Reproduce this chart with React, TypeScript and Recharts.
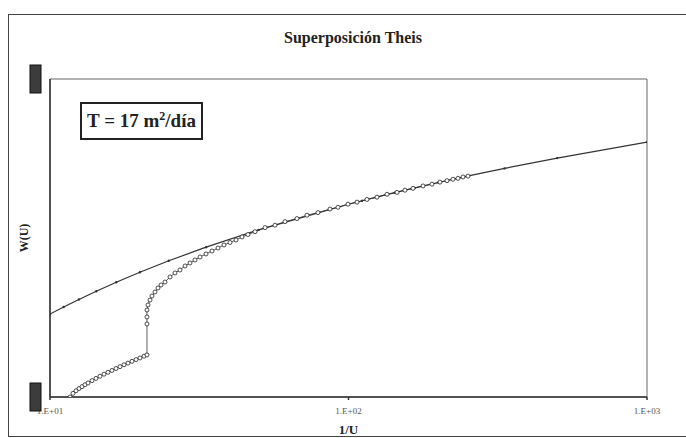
import React from "react";
import {
  LineChart,
  Line,
  XAxis,
  YAxis,
  ReferenceArea,
  Label,
} from "recharts";

// Theis type curve (1/u, W(u))
const theisInvU = [10, 11.11, 12.5, 14.29, 16.67, 20, 25, 33.33, 50, 100, 111.1, 125, 142.9, 166.7, 200, 250, 333.3, 500, 1000];
const theisW = [1.823, 1.919, 2.027, 2.151, 2.295, 2.468, 2.681, 2.959, 3.355, 4.038, 4.142, 4.259, 4.392, 4.545, 4.726, 4.948, 5.235, 5.639, 6.332];

// observed data after superposition
const obsInvU = [
  11.67, 11.94, 12.22, 12.51, 12.8, 13.1, 13.41, 13.83, 14.26, 14.71, 15.17, 15.64, 16.13, 16.64, 17.16, 17.7, 18.25, 18.83, 19.42, 20.02, 20.65, 21.13,
  21.13, 21.13, 21.13, 21.3, 21.63, 21.96, 22.48, 23.0, 23.55, 24.28, 25.24, 26.23, 27.26, 28.34, 29.44, 30.6, 31.81, 33.31, 34.89, 36.54, 38.27, 40.09, 41.99, 43.97, 46.05,
  48.63, 52.53, 56.73, 61.27, 67.21, 72.61, 79.02, 86.7, 92.21, 99.61, 106.8, 115.3, 124.6, 134.6, 145.4, 154.6, 164.5, 177.7, 190.4, 202.5, 213.8, 223.9, 232.7, 241.9, 251.3,
];
const obsW = [
  1.0, 1.027, 1.046, 1.063, 1.078, 1.093, 1.107, 1.126, 1.144, 1.162, 1.18, 1.196, 1.212, 1.229, 1.246, 1.263, 1.278, 1.295, 1.311, 1.327, 1.344, 1.356,
  1.697, 1.785, 1.877, 1.947, 2.018, 2.078, 2.139, 2.202, 2.25, 2.299, 2.385, 2.455, 2.508, 2.582, 2.639, 2.697, 2.756, 2.817, 2.878, 2.941, 3.006, 3.061, 3.117, 3.186, 3.243,
  3.31, 3.41, 3.47, 3.56, 3.64, 3.73, 3.8, 3.9, 3.95, 4.04, 4.1, 4.18, 4.25, 4.34, 4.4, 4.47, 4.53, 4.61, 4.67, 4.74, 4.79, 4.84, 4.87, 4.92, 4.95,
];

const xTicks = [10, 100, 1000];
const xTickLabels = ["1.E+01", "1.E+02", "1.E+03"];
const yTicks = [1, 10];

const theisData = theisInvU.map((x, i) => ({ x, w: theisW[i] }));
const obsData = obsInvU.map((x, i) => ({ x, w: obsW[i] }));

const serif = '"Liberation Serif", "Times New Roman", serif';

// y tick labels are covered by dark blocks in the original
function BlockTick({ x, y }: any) {
  return (
    <rect x={x - 12} y={y - 14} width={11} height={28} fill="#3c3c3c" stroke="#111" strokeWidth={1} />
  );
}

function YLabel() {
  return (
    <text
      x={25}
      y={238}
      transform="rotate(-90, 25, 238)"
      textAnchor="middle"
      dominantBaseline="middle"
      fontFamily={serif}
      fontWeight="bold"
      fontSize={12}
      fill="#222"
    >
      W(U)
    </text>
  );
}

export default function App() {
  return (
    <div
      style={{
        position: "absolute",
        left: 0,
        top: 0,
        width: 686,
        height: 438,
        overflow: "hidden",
        background: "#fff",
        fontFamily: serif,
      }}
    >
      <div
        style={{
          position: "absolute",
          left: 8,
          top: 14,
          width: 720,
          height: 423,
          boxSizing: "border-box",
          border: "1px solid #444",
        }}
      />
      <LineChart
        width={686}
        height={438}
        margin={{ top: 79, right: 39, bottom: 0, left: 0 }}
        style={{ position: "absolute", left: 0, top: 0 }}
      >
        <ReferenceArea x1={10} x2={1000} y1={1} y2={10} fill="none" stroke="#666" strokeWidth={1} fillOpacity={0} />
        <XAxis
          dataKey="x"
          type="number"
          scale="log"
          domain={[10, 1000]}
          ticks={xTicks}
          allowDataOverflow
          height={41}
          tickSize={3}
          tickMargin={8}
          stroke="#333"
          strokeWidth={1.5}
          tick={{ fontSize: 9, fill: "#555", fontFamily: serif }}
          tickFormatter={(v: number, i: number) => xTickLabels[i]}
        >
          <Label
            value="1/U"
            position="insideBottom"
            offset={4}
            style={{ fontFamily: serif, fontWeight: "bold", fontSize: 13, fill: "#222" }}
          />
        </XAxis>
        <YAxis
          type="number"
          scale="log"
          domain={[1, 10]}
          ticks={yTicks}
          allowDataOverflow
          width={50}
          tickLine={false}
          stroke="#333"
          strokeWidth={1.5}
          tick={<BlockTick />}
          label={<YLabel />}
        />
        <Line
          data={theisData}
          dataKey="w"
          type="linear"
          stroke="#333"
          strokeWidth={1.2}
          dot={{ r: 1.2, fill: "#333", stroke: "none" }}
          isAnimationActive={false}
        />
        <Line
          data={obsData}
          dataKey="w"
          type="linear"
          stroke="#333"
          strokeWidth={0.8}
          dot={{ r: 2, fill: "#fff", stroke: "#222", strokeWidth: 0.8 }}
          isAnimationActive={false}
        />
      </LineChart>
      <div
        style={{
          position: "absolute",
          left: 233,
          top: 29,
          width: 240,
          textAlign: "center",
          fontSize: 16,
          lineHeight: "18px",
          fontWeight: "bold",
          color: "#222",
        }}
      >
        Superposición Theis
      </div>
      <div
        style={{
          position: "absolute",
          left: 80,
          top: 102,
          width: 123,
          height: 38,
          boxSizing: "border-box",
          border: "2px solid #222",
          background: "#fff",
          display: "flex",
          alignItems: "center",
          justifyContent: "center",
          fontSize: 19,
          fontWeight: "bold",
          color: "#222",
        }}
      >
        <span>
          T = 17 m<sup style={{ fontSize: 12 }}>2</sup>/día
        </span>
      </div>
    </div>
  );
}
